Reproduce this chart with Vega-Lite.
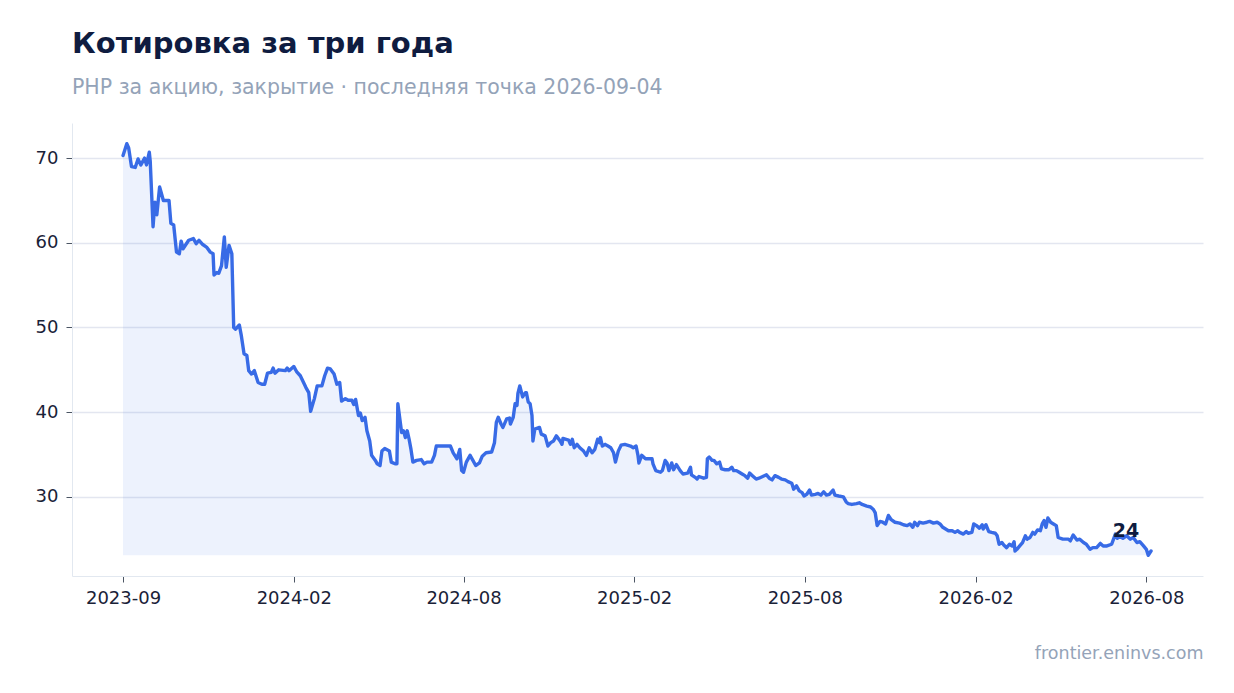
{
  "$schema": "https://vega.github.io/schema/vega-lite/v6.json",
  "width": 1131,
  "height": 453,
  "autosize": {"type": "none"},
  "padding": {"left": 72, "top": 123, "right": 31, "bottom": 117},
  "background": "white",
  "title": {
    "text": "Котировка за три года",
    "subtitle": "PHP за акцию, закрытие · последняя точка 2026-09-04",
    "anchor": "start",
    "frame": "group",
    "font": "DejaVu Sans",
    "fontSize": 29,
    "fontWeight": "bold",
    "color": "#0f1c40",
    "subtitleFont": "DejaVu Sans",
    "subtitleFontSize": 20.5,
    "subtitleColor": "#94a3b8",
    "subtitlePadding": 19,
    "offset": 25
  },
  "data": {
    "values": [
      {"date": "2023-09-04", "price": 70.3},
      {"date": "2023-09-08", "price": 71.7},
      {"date": "2023-09-10", "price": 71.2},
      {"date": "2023-09-13", "price": 69.0},
      {"date": "2023-09-17", "price": 68.9},
      {"date": "2023-09-20", "price": 69.9},
      {"date": "2023-09-23", "price": 69.2},
      {"date": "2023-09-27", "price": 70.0},
      {"date": "2023-09-29", "price": 69.2},
      {"date": "2023-10-02", "price": 70.7},
      {"date": "2023-10-03", "price": 69.6},
      {"date": "2023-10-06", "price": 61.9},
      {"date": "2023-10-08", "price": 64.8},
      {"date": "2023-10-10", "price": 63.3},
      {"date": "2023-10-13", "price": 66.6},
      {"date": "2023-10-17", "price": 65.0},
      {"date": "2023-10-23", "price": 65.0},
      {"date": "2023-10-25", "price": 62.3},
      {"date": "2023-10-28", "price": 62.1},
      {"date": "2023-10-31", "price": 58.9},
      {"date": "2023-11-03", "price": 58.7},
      {"date": "2023-11-05", "price": 60.2},
      {"date": "2023-11-07", "price": 59.3},
      {"date": "2023-11-13", "price": 60.3},
      {"date": "2023-11-18", "price": 60.5},
      {"date": "2023-11-21", "price": 59.9},
      {"date": "2023-11-24", "price": 60.3},
      {"date": "2023-11-28", "price": 59.8},
      {"date": "2023-12-02", "price": 59.5},
      {"date": "2023-12-06", "price": 58.9},
      {"date": "2023-12-09", "price": 58.7},
      {"date": "2023-12-10", "price": 56.2},
      {"date": "2023-12-13", "price": 56.5},
      {"date": "2023-12-15", "price": 56.4},
      {"date": "2023-12-18", "price": 57.3},
      {"date": "2023-12-21", "price": 60.7},
      {"date": "2023-12-23", "price": 57.1},
      {"date": "2023-12-26", "price": 59.7},
      {"date": "2023-12-29", "price": 58.7},
      {"date": "2023-12-31", "price": 50.0},
      {"date": "2024-01-02", "price": 49.8},
      {"date": "2024-01-06", "price": 50.3},
      {"date": "2024-01-08", "price": 49.1},
      {"date": "2024-01-11", "price": 46.9},
      {"date": "2024-01-14", "price": 46.7},
      {"date": "2024-01-16", "price": 44.9},
      {"date": "2024-01-19", "price": 44.5},
      {"date": "2024-01-22", "price": 44.9},
      {"date": "2024-01-26", "price": 43.5},
      {"date": "2024-01-30", "price": 43.3},
      {"date": "2024-02-02", "price": 43.3},
      {"date": "2024-02-05", "price": 44.6},
      {"date": "2024-02-09", "price": 44.7},
      {"date": "2024-02-11", "price": 45.2},
      {"date": "2024-02-13", "price": 44.6},
      {"date": "2024-02-17", "price": 45.0},
      {"date": "2024-02-24", "price": 44.9},
      {"date": "2024-02-26", "price": 45.2},
      {"date": "2024-02-28", "price": 44.9},
      {"date": "2024-03-04", "price": 45.4},
      {"date": "2024-03-07", "price": 44.8},
      {"date": "2024-03-11", "price": 44.3},
      {"date": "2024-03-17", "price": 42.9},
      {"date": "2024-03-20", "price": 42.3},
      {"date": "2024-03-22", "price": 40.1},
      {"date": "2024-03-26", "price": 41.6},
      {"date": "2024-03-29", "price": 43.1},
      {"date": "2024-04-03", "price": 43.1},
      {"date": "2024-04-06", "price": 44.3},
      {"date": "2024-04-09", "price": 45.2},
      {"date": "2024-04-12", "price": 45.1},
      {"date": "2024-04-16", "price": 44.5},
      {"date": "2024-04-19", "price": 43.3},
      {"date": "2024-04-22", "price": 43.5},
      {"date": "2024-04-24", "price": 41.3},
      {"date": "2024-04-28", "price": 41.6},
      {"date": "2024-05-01", "price": 41.4},
      {"date": "2024-05-05", "price": 41.4},
      {"date": "2024-05-07", "price": 40.9},
      {"date": "2024-05-09", "price": 41.5},
      {"date": "2024-05-12", "price": 39.6},
      {"date": "2024-05-14", "price": 39.9},
      {"date": "2024-05-16", "price": 39.0},
      {"date": "2024-05-19", "price": 39.4},
      {"date": "2024-05-21", "price": 37.8},
      {"date": "2024-05-24", "price": 36.6},
      {"date": "2024-05-26", "price": 34.9},
      {"date": "2024-05-30", "price": 34.3},
      {"date": "2024-06-01", "price": 33.9},
      {"date": "2024-06-04", "price": 33.7},
      {"date": "2024-06-06", "price": 35.4},
      {"date": "2024-06-09", "price": 35.7},
      {"date": "2024-06-14", "price": 35.4},
      {"date": "2024-06-16", "price": 34.1},
      {"date": "2024-06-20", "price": 33.9},
      {"date": "2024-06-22", "price": 33.9},
      {"date": "2024-06-23", "price": 41.0},
      {"date": "2024-06-27", "price": 37.6},
      {"date": "2024-06-29", "price": 37.8},
      {"date": "2024-07-01", "price": 37.0},
      {"date": "2024-07-03", "price": 37.8},
      {"date": "2024-07-05", "price": 36.8},
      {"date": "2024-07-07", "price": 35.6},
      {"date": "2024-07-09", "price": 34.1},
      {"date": "2024-07-13", "price": 34.3},
      {"date": "2024-07-18", "price": 34.4},
      {"date": "2024-07-21", "price": 33.9},
      {"date": "2024-07-24", "price": 34.1},
      {"date": "2024-07-29", "price": 34.1},
      {"date": "2024-08-01", "price": 34.9},
      {"date": "2024-08-03", "price": 36.0},
      {"date": "2024-08-09", "price": 36.0},
      {"date": "2024-08-18", "price": 36.0},
      {"date": "2024-08-21", "price": 35.2},
      {"date": "2024-08-25", "price": 34.5},
      {"date": "2024-08-28", "price": 35.6},
      {"date": "2024-08-30", "price": 33.1},
      {"date": "2024-09-01", "price": 32.9},
      {"date": "2024-09-04", "price": 34.1},
      {"date": "2024-09-08", "price": 34.9},
      {"date": "2024-09-11", "price": 34.3},
      {"date": "2024-09-14", "price": 33.7},
      {"date": "2024-09-18", "price": 34.0},
      {"date": "2024-09-21", "price": 34.8},
      {"date": "2024-09-25", "price": 35.2},
      {"date": "2024-10-01", "price": 35.3},
      {"date": "2024-10-04", "price": 36.4},
      {"date": "2024-10-06", "price": 38.8},
      {"date": "2024-10-08", "price": 39.4},
      {"date": "2024-10-11", "price": 38.6},
      {"date": "2024-10-13", "price": 38.2},
      {"date": "2024-10-17", "price": 39.2},
      {"date": "2024-10-20", "price": 39.3},
      {"date": "2024-10-21", "price": 38.6},
      {"date": "2024-10-24", "price": 39.4},
      {"date": "2024-10-26", "price": 41.0},
      {"date": "2024-10-28", "price": 40.8},
      {"date": "2024-10-29", "price": 42.2},
      {"date": "2024-10-31", "price": 43.1},
      {"date": "2024-11-03", "price": 41.8},
      {"date": "2024-11-06", "price": 42.3},
      {"date": "2024-11-07", "price": 42.3},
      {"date": "2024-11-09", "price": 41.2},
      {"date": "2024-11-11", "price": 41.0},
      {"date": "2024-11-13", "price": 39.6},
      {"date": "2024-11-14", "price": 36.6},
      {"date": "2024-11-16", "price": 38.0},
      {"date": "2024-11-21", "price": 38.2},
      {"date": "2024-11-23", "price": 37.4},
      {"date": "2024-11-27", "price": 37.2},
      {"date": "2024-11-30", "price": 36.0},
      {"date": "2024-12-03", "price": 36.4},
      {"date": "2024-12-06", "price": 36.6},
      {"date": "2024-12-09", "price": 37.2},
      {"date": "2024-12-13", "price": 36.6},
      {"date": "2024-12-15", "price": 36.2},
      {"date": "2024-12-16", "price": 36.9},
      {"date": "2024-12-22", "price": 36.7},
      {"date": "2024-12-24", "price": 36.2},
      {"date": "2024-12-26", "price": 36.8},
      {"date": "2024-12-28", "price": 35.8},
      {"date": "2024-12-31", "price": 36.2},
      {"date": "2025-01-03", "price": 35.8},
      {"date": "2025-01-07", "price": 35.4},
      {"date": "2025-01-10", "price": 34.9},
      {"date": "2025-01-13", "price": 35.8},
      {"date": "2025-01-16", "price": 35.2},
      {"date": "2025-01-19", "price": 35.6},
      {"date": "2025-01-22", "price": 36.8},
      {"date": "2025-01-24", "price": 36.4},
      {"date": "2025-01-25", "price": 37.0},
      {"date": "2025-01-27", "price": 36.0},
      {"date": "2025-01-30", "price": 36.2},
      {"date": "2025-02-02", "price": 36.0},
      {"date": "2025-02-05", "price": 35.8},
      {"date": "2025-02-08", "price": 35.2},
      {"date": "2025-02-10", "price": 34.1},
      {"date": "2025-02-13", "price": 35.4},
      {"date": "2025-02-16", "price": 36.1},
      {"date": "2025-02-20", "price": 36.2},
      {"date": "2025-02-26", "price": 36.0},
      {"date": "2025-03-01", "price": 35.8},
      {"date": "2025-03-04", "price": 36.0},
      {"date": "2025-03-06", "price": 34.9},
      {"date": "2025-03-07", "price": 34.0},
      {"date": "2025-03-10", "price": 34.9},
      {"date": "2025-03-14", "price": 34.5},
      {"date": "2025-03-21", "price": 34.5},
      {"date": "2025-03-22", "price": 33.9},
      {"date": "2025-03-25", "price": 33.1},
      {"date": "2025-03-30", "price": 32.9},
      {"date": "2025-04-01", "price": 33.1},
      {"date": "2025-04-04", "price": 34.3},
      {"date": "2025-04-06", "price": 34.0},
      {"date": "2025-04-08", "price": 33.1},
      {"date": "2025-04-11", "price": 34.0},
      {"date": "2025-04-13", "price": 33.2},
      {"date": "2025-04-16", "price": 33.8},
      {"date": "2025-04-20", "price": 33.1},
      {"date": "2025-04-23", "price": 32.7},
      {"date": "2025-04-28", "price": 32.8},
      {"date": "2025-05-01", "price": 33.5},
      {"date": "2025-05-02", "price": 32.6},
      {"date": "2025-05-06", "price": 32.3},
      {"date": "2025-05-08", "price": 32.1},
      {"date": "2025-05-10", "price": 32.4},
      {"date": "2025-05-15", "price": 32.2},
      {"date": "2025-05-18", "price": 32.3},
      {"date": "2025-05-19", "price": 34.5},
      {"date": "2025-05-21", "price": 34.7},
      {"date": "2025-05-24", "price": 34.3},
      {"date": "2025-05-26", "price": 34.3},
      {"date": "2025-05-29", "price": 33.9},
      {"date": "2025-06-01", "price": 34.1},
      {"date": "2025-06-03", "price": 33.3},
      {"date": "2025-06-07", "price": 33.2},
      {"date": "2025-06-11", "price": 33.2},
      {"date": "2025-06-14", "price": 33.5},
      {"date": "2025-06-16", "price": 33.1},
      {"date": "2025-06-19", "price": 33.1},
      {"date": "2025-06-22", "price": 32.9},
      {"date": "2025-06-25", "price": 32.7},
      {"date": "2025-06-28", "price": 32.5},
      {"date": "2025-07-01", "price": 32.2},
      {"date": "2025-07-03", "price": 32.8},
      {"date": "2025-07-06", "price": 32.5},
      {"date": "2025-07-10", "price": 32.1},
      {"date": "2025-07-13", "price": 32.2},
      {"date": "2025-07-17", "price": 32.4},
      {"date": "2025-07-21", "price": 32.6},
      {"date": "2025-07-24", "price": 32.2},
      {"date": "2025-07-27", "price": 32.0},
      {"date": "2025-07-30", "price": 32.5},
      {"date": "2025-08-03", "price": 32.3},
      {"date": "2025-08-06", "price": 32.1},
      {"date": "2025-08-10", "price": 32.0},
      {"date": "2025-08-13", "price": 31.8},
      {"date": "2025-08-17", "price": 31.6},
      {"date": "2025-08-19", "price": 30.9},
      {"date": "2025-08-22", "price": 31.3},
      {"date": "2025-08-25", "price": 30.7},
      {"date": "2025-08-28", "price": 30.5},
      {"date": "2025-08-30", "price": 30.1},
      {"date": "2025-09-02", "price": 30.3},
      {"date": "2025-09-05", "price": 30.8},
      {"date": "2025-09-07", "price": 30.2},
      {"date": "2025-09-11", "price": 30.3},
      {"date": "2025-09-14", "price": 30.4},
      {"date": "2025-09-17", "price": 30.2},
      {"date": "2025-09-20", "price": 30.6},
      {"date": "2025-09-23", "price": 30.2},
      {"date": "2025-09-26", "price": 30.3},
      {"date": "2025-09-30", "price": 30.8},
      {"date": "2025-10-02", "price": 30.2},
      {"date": "2025-10-06", "price": 30.1},
      {"date": "2025-10-11", "price": 30.0},
      {"date": "2025-10-14", "price": 29.4},
      {"date": "2025-10-16", "price": 29.2},
      {"date": "2025-10-20", "price": 29.1},
      {"date": "2025-10-25", "price": 29.2},
      {"date": "2025-10-28", "price": 29.3},
      {"date": "2025-10-31", "price": 29.1},
      {"date": "2025-11-05", "price": 28.9},
      {"date": "2025-11-09", "price": 28.8},
      {"date": "2025-11-12", "price": 28.5},
      {"date": "2025-11-14", "price": 28.1},
      {"date": "2025-11-16", "price": 26.6},
      {"date": "2025-11-19", "price": 27.1},
      {"date": "2025-11-22", "price": 27.0},
      {"date": "2025-11-25", "price": 26.8},
      {"date": "2025-11-28", "price": 27.8},
      {"date": "2025-12-01", "price": 27.3},
      {"date": "2025-12-05", "price": 27.0},
      {"date": "2025-12-10", "price": 26.9},
      {"date": "2025-12-14", "price": 26.7},
      {"date": "2025-12-18", "price": 26.6},
      {"date": "2025-12-21", "price": 26.8},
      {"date": "2025-12-24", "price": 26.4},
      {"date": "2025-12-26", "price": 27.0},
      {"date": "2025-12-29", "price": 26.6},
      {"date": "2025-12-31", "price": 27.0},
      {"date": "2026-01-04", "price": 26.9},
      {"date": "2026-01-08", "price": 27.0},
      {"date": "2026-01-11", "price": 27.1},
      {"date": "2026-01-15", "price": 26.9},
      {"date": "2026-01-19", "price": 27.0},
      {"date": "2026-01-22", "price": 26.8},
      {"date": "2026-01-25", "price": 26.4},
      {"date": "2026-01-28", "price": 26.2},
      {"date": "2026-01-31", "price": 26.0},
      {"date": "2026-02-04", "price": 26.0},
      {"date": "2026-02-07", "price": 25.8},
      {"date": "2026-02-10", "price": 26.0},
      {"date": "2026-02-12", "price": 25.8},
      {"date": "2026-02-16", "price": 25.6},
      {"date": "2026-02-19", "price": 25.9},
      {"date": "2026-02-21", "price": 25.7},
      {"date": "2026-02-25", "price": 25.8},
      {"date": "2026-02-27", "price": 26.8},
      {"date": "2026-03-02", "price": 26.6},
      {"date": "2026-03-05", "price": 26.3},
      {"date": "2026-03-08", "price": 26.7},
      {"date": "2026-03-09", "price": 26.2},
      {"date": "2026-03-12", "price": 26.7},
      {"date": "2026-03-15", "price": 25.9},
      {"date": "2026-03-18", "price": 25.8},
      {"date": "2026-03-22", "price": 25.7},
      {"date": "2026-03-24", "price": 25.4},
      {"date": "2026-03-26", "price": 24.4},
      {"date": "2026-03-29", "price": 24.6},
      {"date": "2026-03-31", "price": 24.3},
      {"date": "2026-04-03", "price": 24.0},
      {"date": "2026-04-06", "price": 24.4},
      {"date": "2026-04-09", "price": 24.2},
      {"date": "2026-04-11", "price": 24.7},
      {"date": "2026-04-12", "price": 23.6},
      {"date": "2026-04-14", "price": 23.8},
      {"date": "2026-04-17", "price": 24.2},
      {"date": "2026-04-20", "price": 24.6},
      {"date": "2026-04-23", "price": 25.4},
      {"date": "2026-04-25", "price": 25.0},
      {"date": "2026-04-28", "price": 25.2},
      {"date": "2026-05-01", "price": 25.8},
      {"date": "2026-05-03", "price": 25.6},
      {"date": "2026-05-06", "price": 26.1},
      {"date": "2026-05-09", "price": 26.0},
      {"date": "2026-05-11", "price": 26.8},
      {"date": "2026-05-13", "price": 27.2},
      {"date": "2026-05-15", "price": 26.4},
      {"date": "2026-05-17", "price": 27.5},
      {"date": "2026-05-20", "price": 27.0},
      {"date": "2026-05-23", "price": 26.8},
      {"date": "2026-05-26", "price": 26.6},
      {"date": "2026-05-28", "price": 25.2},
      {"date": "2026-06-02", "price": 25.0},
      {"date": "2026-06-08", "price": 25.0},
      {"date": "2026-06-10", "price": 24.8},
      {"date": "2026-06-13", "price": 25.5},
      {"date": "2026-06-17", "price": 24.9},
      {"date": "2026-06-20", "price": 25.0},
      {"date": "2026-06-24", "price": 24.6},
      {"date": "2026-06-27", "price": 24.4},
      {"date": "2026-07-01", "price": 23.8},
      {"date": "2026-07-04", "price": 24.0},
      {"date": "2026-07-08", "price": 24.0},
      {"date": "2026-07-12", "price": 24.5},
      {"date": "2026-07-15", "price": 24.2},
      {"date": "2026-07-19", "price": 24.2},
      {"date": "2026-07-24", "price": 24.4},
      {"date": "2026-07-28", "price": 25.6},
      {"date": "2026-07-30", "price": 25.1},
      {"date": "2026-08-02", "price": 25.3},
      {"date": "2026-08-05", "price": 25.1},
      {"date": "2026-08-09", "price": 25.4},
      {"date": "2026-08-13", "price": 25.0},
      {"date": "2026-08-16", "price": 25.2},
      {"date": "2026-08-20", "price": 24.6},
      {"date": "2026-08-23", "price": 24.7},
      {"date": "2026-08-27", "price": 24.2},
      {"date": "2026-08-30", "price": 23.8},
      {"date": "2026-09-01", "price": 23.1},
      {"date": "2026-09-04", "price": 23.6}
    ]
  },
  "encoding": {
    "x": {
      "field": "date",
      "type": "temporal",
      "scale": {
        "type": "utc",
        "domain": [
          {"year": 2023, "month": 7, "date": 11, "hours": 14, "utc": true},
          {"year": 2026, "month": 10, "date": 29, "hours": 10, "utc": true}
        ]
      },
      "axis": {
        "title": "frontier.eninvs.com",
        "titleAnchor": "end",
        "titleAlign": "right",
        "titleFont": "DejaVu Sans",
        "titleFontSize": 17.5,
        "titleFontWeight": "normal",
        "titleColor": "#94a3b8",
        "titlePadding": 37,
        "values": [
          {"year": 2023, "month": 9, "date": 4, "utc": true},
          {"year": 2024, "month": 3, "date": 4, "utc": true},
          {"year": 2024, "month": 9, "date": 1, "utc": true},
          {"year": 2025, "month": 3, "date": 2, "utc": true},
          {"year": 2025, "month": 8, "date": 31, "utc": true},
          {"year": 2026, "month": 3, "date": 1, "utc": true},
          {"year": 2026, "month": 8, "date": 30, "utc": true}
        ],
        "labelExpr": "['2023-09','2024-02','2024-08','2025-02','2025-08','2026-02','2026-08'][round((datum.value - utc(2023, 8, 4)) / 15724800000)]",
        "grid": false,
        "domainColor": "#e2e8f0",
        "tickColor": "#4b5563",
        "tickSize": 6,
        "labelPadding": 7,
        "labelFont": "DejaVu Sans",
        "labelFontSize": 18,
        "labelColor": "#1a2238"
      }
    }
  },
  "layer": [
    {
      "transform": [{"joinaggregate": [{"op": "min", "field": "price", "as": "low"}]}],
      "mark": {"type": "area", "color": "#3b6ee6", "opacity": 0.09},
      "encoding": {
        "y": {"field": "price", "type": "quantitative"},
        "y2": {"field": "low"}
      }
    },
    {
      "mark": {"type": "line", "color": "#386be6", "strokeWidth": 3.4, "strokeJoin": "round", "strokeCap": "round"},
      "encoding": {
        "y": {
          "field": "price",
          "type": "quantitative",
          "scale": {"domain": [20.65, 74.15], "nice": false, "zero": false},
          "axis": {
            "title": null,
            "values": [30, 40, 50, 60, 70],
            "grid": true,
            "gridColor": "#e3e6f0",
            "gridWidth": 1.5,
            "domainColor": "#e2e8f0",
            "tickColor": "#4b5563",
            "tickSize": 6,
            "labelPadding": 8,
            "labelFont": "DejaVu Sans",
            "labelFontSize": 18,
            "labelColor": "#1a2238"
          }
        }
      }
    },
    {
      "transform": [
        {"window": [{"op": "row_number", "as": "rn"}], "sort": [{"field": "date", "order": "descending"}]},
        {"filter": "datum.rn == 1"}
      ],
      "mark": {"type": "text", "font": "DejaVu Sans", "fontSize": 19, "fontWeight": "bold", "color": "#0f1c40", "align": "center", "baseline": "middle", "dx": -25, "dy": -20},
      "encoding": {
        "y": {"field": "price", "type": "quantitative"},
        "text": {"field": "price", "type": "quantitative", "format": ".0f"}
      }
    }
  ],
  "config": {
    "view": {"stroke": null}
  }
}
